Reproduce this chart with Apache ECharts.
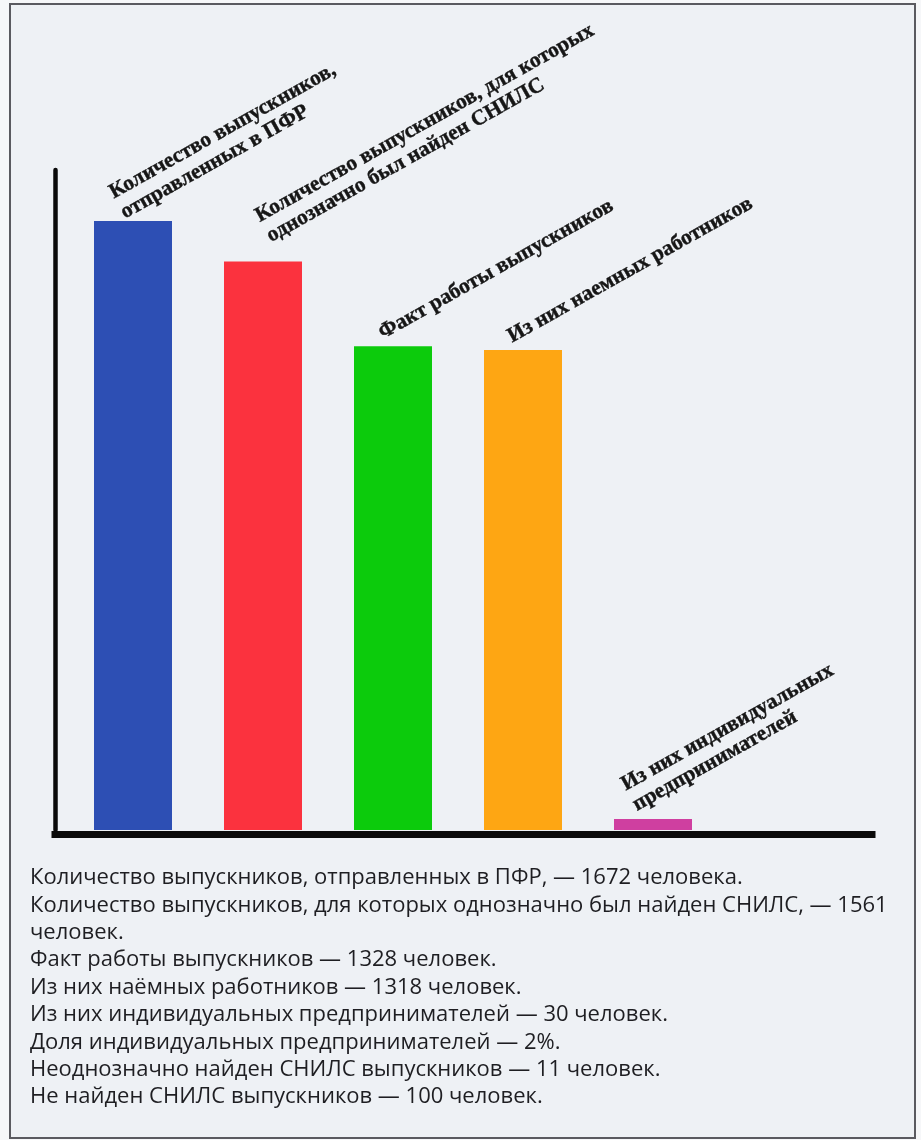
<!DOCTYPE html>
<html>
<head>
<meta charset="utf-8">
<script src="https://cdn.jsdelivr.net/npm/echarts@6/dist/echarts.min.js"></script>
<style>
  html, body { margin: 0; padding: 0; background: #f6f7f9; }
  #chart { width: 921px; height: 1140px; }
</style>
</head>
<body>
<div id="chart"></div>
<script>
// ---- data ----
const categories = [
  'Количество выпускников,\nотправленных в ПФР',
  'Количество выпускников, для которых\nоднозначно был найден СНИЛС',
  'Факт работы выпускников',
  'Из них наемных работников',
  'Из них индивидуальных\nпредпринимателей'
];
const values = [1672, 1561, 1328, 1318, 30];
const barColors = ['#2d4fb4', '#fb323e', '#0ccb0c', '#fea613', '#cf3fa0'];
const notes = [
  'Количество выпускников, отправленных в ПФР, — 1672 человека.',
  'Количество выпускников, для которых однозначно был найден СНИЛС, — 1561',
  'человек.',
  'Факт работы выпускников — 1328 человек.',
  'Из них наёмных работников — 1318 человек.',
  'Из них индивидуальных предпринимателей — 30 человек.',
  'Доля индивидуальных предпринимателей — 2%.',
  'Неоднозначно найден СНИЛС выпускников — 11 человек.',
  'Не найден СНИЛС выпускников — 100 человек.'
];

// ---- layout (label anchor relative to bar top-left) ----
const labelPos = [[34, 3], [50, -14], [32, -2], [31, -2], [26, -3]];

const chart = echarts.init(document.getElementById('chart'), null, { renderer: 'canvas' });

const gridLeft = 55, gridTop = 170, gridWidth = 817, gridHeight = 660;
const band = 130;

const seriesData = values.map((v, i) => ({
  value: [i, v],
  itemStyle: { color: barColors[i] },
  label: { position: labelPos[i] }
}));

const noteGraphics = notes.map((t, i) => ({
  type: 'text',
  left: 30,
  top: 867 + i * 27.4,
  style: {
    text: t,
    fill: '#1e1e22',
    font: '22px "Open Sans", "Noto Sans", sans-serif'
  }
}));

const option = {
  backgroundColor: '#f6f7f9',
  animation: false,
  graphic: [
    {
      type: 'rect',
      shape: { x: 10, y: 4, width: 905, height: 1134 },
      style: { fill: '#eef1f5', stroke: '#5a5a60', lineWidth: 2 },
      z: -10
    }
  ].concat(noteGraphics),
  grid: { left: gridLeft, top: gridTop, width: gridWidth, height: gridHeight, containLabel: false },
  xAxis: {
    type: 'value',
    min: -0.6,
    max: -0.6 + gridWidth / band,
    offset: 4,
    axisLine: { show: true, onZero: false, lineStyle: { color: '#0a0a0a', width: 7, cap: 'square' } },
    axisTick: { show: false },
    axisLabel: { show: false },
    splitLine: { show: false }
  },
  yAxis: {
    type: 'value',
    min: 0,
    max: 1812,
    axisLine: { show: true, onZero: false, lineStyle: { color: '#0a0a0a', width: 4.5 } },
    axisTick: { show: false },
    axisLabel: { show: false },
    splitLine: { show: false }
  },
  series: [{
    type: 'bar',
    barWidth: 78,
    data: seriesData,
    label: {
      show: true,
      rotate: 29.3,
      align: 'left',
      verticalAlign: 'bottom',
      lineHeight: 23,
      fontFamily: '"Liberation Serif", "DejaVu Serif", serif',
      fontWeight: 'bold',
      fontSize: 21.5,
      color: '#161616',
      textBorderColor: '#161616',
      textBorderWidth: 0.4,
      formatter: p => categories[p.dataIndex]
    }
  }]
};
chart.setOption(option);
</script>
</body>
</html>
